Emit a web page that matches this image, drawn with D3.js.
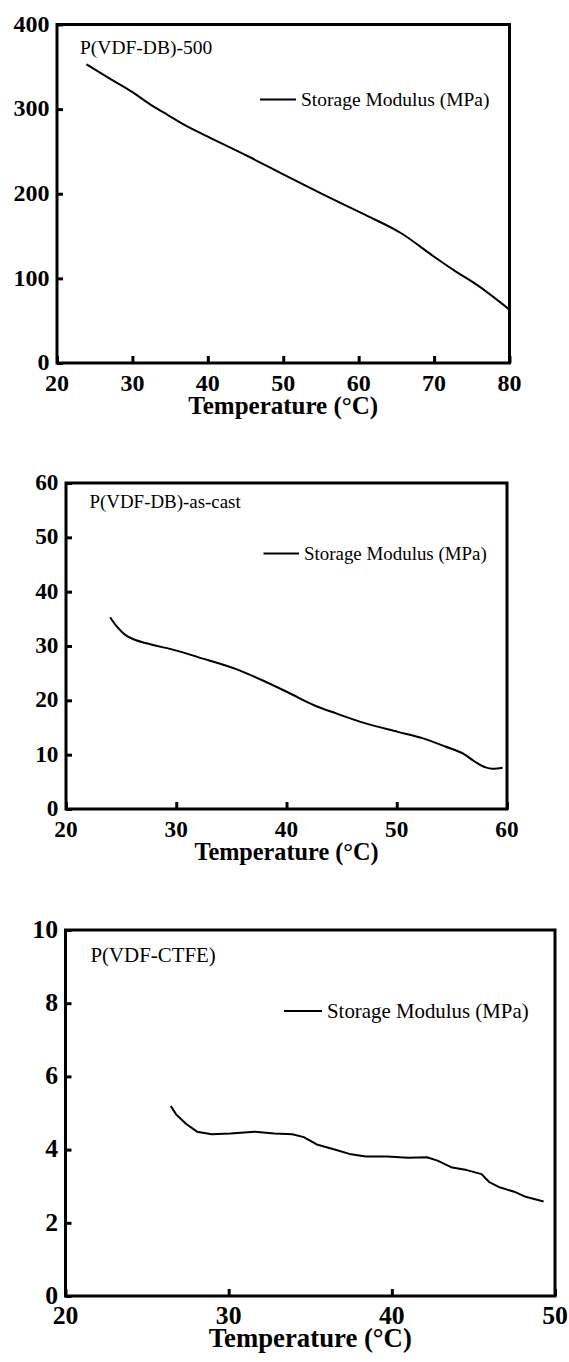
<!DOCTYPE html>
<html>
<head>
<meta charset="utf-8">
<script src="https://cdn.jsdelivr.net/npm/d3@7"></script>
<style>
  html, body { margin: 0; padding: 0; background: #fff; }
  svg { display: block; }
  text { font-family: "Liberation Serif", "Times New Roman", serif; fill: #000; }
</style>
</head>
<body>
<svg id="chart" width="569" height="1362"></svg>
<script>
// ---- data: storage modulus vs temperature for three films ----
const sampleNames = ["P(VDF-DB)-500", "P(VDF-DB)-as-cast", "P(VDF-CTFE)"];
const seriesLabel = "Storage Modulus (MPa)";
const xAxisTitle = "Temperature (\u00B0C)";

const db500Temp    = [23.9, 27.0, 29.9, 32.3, 34.7, 36.6, 40.0, 45.4, 50.2, 55.0, 60.4, 65.7, 70.0, 72.9, 75.4, 80.0];
const db500Modulus = [353, 336, 320.6, 306, 293, 283, 267.5, 244, 222, 200.5, 177, 153, 125.6, 108, 94, 63];

const dbCastTemp    = [24.0, 24.6, 25.4, 26.3, 27.3, 30.1, 31.9, 35.5, 37.8, 40.2, 42.5, 44.5, 47.1, 50.1, 52.4, 54.4, 56.1, 57.1, 58.0, 58.7, 59.6];
const dbCastModulus = [35.3, 33.6, 32.0, 31.1, 30.5, 29.1, 28.0, 25.7, 23.7, 21.4, 19.1, 17.6, 15.8, 14.2, 13.0, 11.5, 10.1, 8.7, 7.7, 7.4, 7.6];

const ctfeTemp    = [26.45, 26.8, 27.4, 28.06, 28.96, 30.1, 31.6, 32.8, 33.9, 34.6, 35.4, 36.6, 37.5, 38.4, 39.7, 41.0, 42.15, 42.8, 43.7, 44.6, 45.5, 45.95, 46.6, 47.5, 48.2, 49.3];
const ctfeModulus = [5.19, 4.95, 4.7, 4.49, 4.42, 4.44, 4.49, 4.44, 4.42, 4.34, 4.14, 3.99, 3.87, 3.81, 3.81, 3.78, 3.79, 3.70, 3.51, 3.44, 3.33, 3.12, 2.97, 2.85, 2.71, 2.58];

const db500XTicks  = [20, 30, 40, 50, 60, 70, 80];
const db500YTicks  = [0, 100, 200, 300, 400];
const dbCastXTicks = [20, 30, 40, 50, 60];
const dbCastYTicks = [0, 10, 20, 30, 40, 50, 60];
const ctfeXTicks   = [20, 30, 40, 50];
const ctfeYTicks   = [0, 2, 4, 6, 8, 10];

// ---- panel geometry and styling ----
const panels = [
  { name: sampleNames[0], temp: db500Temp, mod: db500Modulus, xTicks: db500XTicks, yTicks: db500YTicks,
    box: { l: 57, t: 24.5, r: 509.5, b: 363 }, fs: 1.0,
    title: { dx: 23, dy: 29 }, legend: { x1: 260, x2: 296, y: 99.5 }, curve: d3.curveMonotoneX },
  { name: sampleNames[1], temp: dbCastTemp, mod: dbCastModulus, xTicks: dbCastXTicks, yTicks: dbCastYTicks,
    box: { l: 66, t: 483, r: 507, b: 809 }, fs: 0.97,
    title: { dx: 23.5, dy: 25 }, legend: { x1: 263.5, x2: 299, y: 553.5 }, curve: d3.curveMonotoneX },
  { name: sampleNames[2], temp: ctfeTemp, mod: ctfeModulus, xTicks: ctfeXTicks, yTicks: ctfeYTicks,
    box: { l: 65.5, t: 930, r: 555, b: 1296 }, fs: 1.07,
    title: { dx: 25, dy: 32 }, legend: { x1: 284, x2: 322, y: 1011 }, curve: d3.curveLinear }
];

const svg = d3.select("#chart");

panels.forEach(p => {
  const { l, t, r, b } = p.box;
  const x = d3.scaleLinear().domain(d3.extent(p.xTicks)).range([l, r]);
  const y = d3.scaleLinear().domain(d3.extent(p.yTicks)).range([b, t]);
  const g = svg.append("g");

  // inward tick marks on the bottom and left axes
  const xAxis = d3.axisTop(x).tickValues(p.xTicks).tickSize(7).tickFormat("");
  const yAxis = d3.axisRight(y).tickValues(p.yTicks).tickSize(6).tickFormat("");
  g.append("g").attr("transform", `translate(0,${b})`).call(xAxis)
    .call(s => s.select(".domain").remove())
    .selectAll("line").attr("stroke", "#000").attr("stroke-width", 3);
  g.append("g").attr("transform", `translate(${l},0)`).call(yAxis)
    .call(s => s.select(".domain").remove())
    .selectAll("line").attr("stroke", "#000").attr("stroke-width", 3);

  // frame
  g.append("rect")
    .attr("x", l).attr("y", t).attr("width", r - l).attr("height", b - t)
    .attr("fill", "none").attr("stroke", "#000").attr("stroke-width", 3);

  // tick labels
  g.selectAll(".xl").data(p.xTicks).enter().append("text")
    .attr("x", d => x(d)).attr("y", b + 28)
    .attr("text-anchor", "middle").attr("font-weight", "bold")
    .attr("font-size", 24 * p.fs).text(d => d);
  g.selectAll(".yl").data(p.yTicks).enter().append("text")
    .attr("x", l - 7.5).attr("y", d => y(d)).attr("dy", "0.3em")
    .attr("text-anchor", "end").attr("font-weight", "bold")
    .attr("font-size", 24 * p.fs).text(d => d);

  // axis title
  g.append("text")
    .attr("x", (l + r) / 2).attr("y", b + 51)
    .attr("text-anchor", "middle").attr("font-weight", "bold")
    .attr("font-size", 25 * p.fs).text(xAxisTitle);

  // sample name
  g.append("text")
    .attr("x", l + p.title.dx).attr("y", t + p.title.dy)
    .attr("font-size", 19.5 * p.fs).text(p.name);

  // legend
  g.append("line")
    .attr("x1", p.legend.x1).attr("x2", p.legend.x2)
    .attr("y1", p.legend.y).attr("y2", p.legend.y)
    .attr("stroke", "#000").attr("stroke-width", 2);
  g.append("text")
    .attr("x", p.legend.x2 + 5).attr("y", p.legend.y).attr("dy", "0.33em")
    .attr("font-size", 19.5 * p.fs).text(seriesLabel);

  // storage modulus curve
  const pts = p.temp.map((tv, i) => [tv, p.mod[i]]);
  const line = d3.line().x(d => x(d[0])).y(d => y(d[1])).curve(p.curve);
  g.append("path").datum(pts)
    .attr("d", line)
    .attr("fill", "none").attr("stroke", "#000").attr("stroke-width", 2)
    .attr("stroke-linejoin", "round");
});
</script>
</body>
</html>
